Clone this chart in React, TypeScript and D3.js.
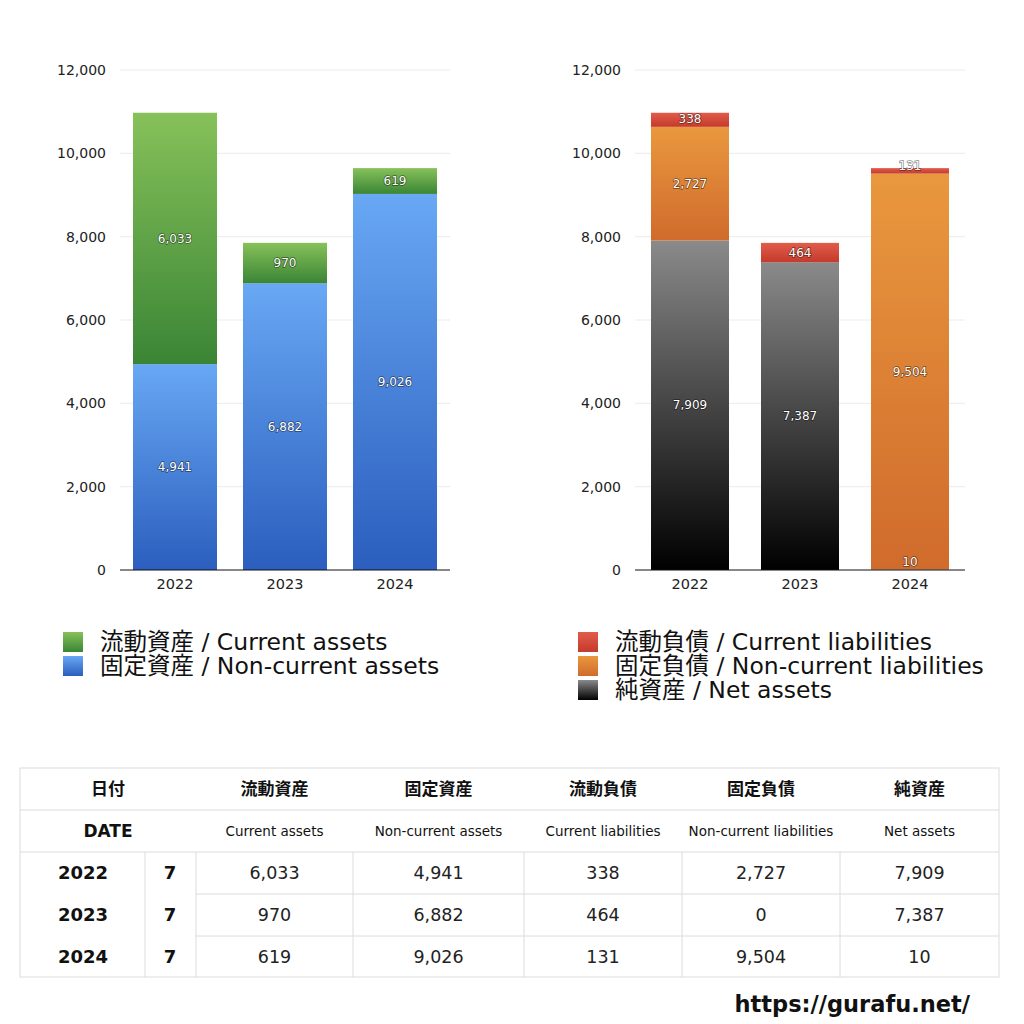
import React from "react";
import * as d3 from "d3";

const years = ["2022", "2023", "2024"];
const months = [7, 7, 7];
const currentAssets = [6033, 970, 619];
const nonCurrentAssets = [4941, 6882, 9026];
const currentLiabilities = [338, 464, 131];
const nonCurrentLiabilities = [2727, 0, 9504];
const netAssets = [7909, 7387, 10];
const yTicks = [0, 2000, 4000, 6000, 8000, 10000, 12000];

const leftSeries = [
  { key: "nca", jp: "固定資産", en: "Non-current assets", values: nonCurrentAssets, grad: "gBlue" },
  { key: "ca", jp: "流動資産", en: "Current assets", values: currentAssets, grad: "gGreen" },
];
const rightSeries = [
  { key: "na", jp: "純資産", en: "Net assets", values: netAssets, grad: "gBlack" },
  { key: "ncl", jp: "固定負債", en: "Non-current liabilities", values: nonCurrentLiabilities, grad: "gOrange" },
  { key: "cl", jp: "流動負債", en: "Current liabilities", values: currentLiabilities, grad: "gRed" },
];

const gradients = [
  { id: "gGreen", top: "#87c15a", bottom: "#3a8535" },
  { id: "gBlue", top: "#68a8f4", bottom: "#2b5ebe" },
  { id: "gRed", top: "#e25c4a", bottom: "#c43a2b" },
  { id: "gOrange", top: "#e9983e", bottom: "#d06b2c" },
  { id: "gBlack", top: "#8a8a8a", bottom: "#000000" },
];

const FONT = "'DejaVu Sans', 'Noto Sans CJK JP', sans-serif";
const fmt = d3.format(",");

function StackChart({ series, x0, barPad }: { series: any[]; x0: number; barPad: number }) {
  const width = 330;
  const x = d3.scaleBand<string>().domain(years).range([x0, x0 + width]).paddingInner(barPad).paddingOuter(barPad / 2);
  const y = d3.scaleLinear().domain([0, 12000]).range([570, 70]);
  const rows = years.map((yr, i) => {
    const o: any = { year: yr };
    series.forEach((s) => (o[s.key] = s.values[i]));
    return o;
  });
  const stacked = d3.stack<any>().keys(series.map((s) => s.key))(rows);
  return (
    <g>
      {yTicks.map((t) => (
        <g key={t}>
          {t > 0 && <line x1={x0} x2={x0 + width} y1={y(t)} y2={y(t)} stroke="#ebebeb" strokeWidth={1} />}
          <text x={x0 - 14} y={y(t)} dy="0.35em" textAnchor="end" fontSize={14} fill="#222" fontFamily={FONT}>
            {fmt(t)}
          </text>
        </g>
      ))}
      {stacked.map((layer, si) => (
        <g key={layer.key}>
          {layer.map((d, i) => {
            const h = y(d[0]) - y(d[1]);
            if (h <= 0) return null;
            return (
              <rect key={i} x={x(years[i])} width={x.bandwidth()} y={y(d[1])} height={h} fill={`url(#${series[si].grad})`} />
            );
          })}
        </g>
      ))}
      {stacked.map((layer, si) => (
        <g key={layer.key + "l"}>
          {layer.map((d, i) => {
            const v = series[si].values[i];
            if (!v) return null;
            const cy = Math.min((y(d[0]) + y(d[1])) / 2, y(d[0]) - 8);
            return (
              <text
                key={i}
                x={(x(years[i]) as number) + x.bandwidth() / 2}
                y={cy}
                dy="0.35em"
                textAnchor="middle"
                fontSize={12}
                fill="#fff"
                stroke="rgba(0,0,0,0.5)"
                strokeWidth={1.4}
                paintOrder="stroke"
                fontFamily={FONT}
              >
                {fmt(v)}
              </text>
            );
          })}
        </g>
      ))}
      <line x1={x0} x2={x0 + width} y1={y(0)} y2={y(0)} stroke="#111" strokeWidth={1} />
      {years.map((yr) => (
        <text key={yr} x={(x(yr) as number) + x.bandwidth() / 2} y={584} dy="0.35em" textAnchor="middle" fontSize={14.5} fill="#222" fontFamily={FONT}>
          {yr}
        </text>
      ))}
    </g>
  );
}

function Legend({ items, x0, y0 }: { items: any[]; x0: number; y0: number }) {
  return (
    <g>
      {items.map((s, i) => (
        <g key={s.key}>
          <rect x={x0} y={y0 + i * 24 - 10} width={20} height={20} fill={`url(#${s.grad})`} />
          <text x={x0 + 37} y={y0 + i * 24} dy="0.36em" fontSize={23.5} fill="#111" fontFamily={FONT}>
            {s.jp} / {s.en}
          </text>
        </g>
      ))}
    </g>
  );
}

const colEdges = [20, 196, 353, 524, 682, 840, 999];
const rowEdges = [768, 810, 852, 894, 936, 977];
const headJp = ["流動資産", "固定資産", "流動負債", "固定負債", "純資産"];
const headEn = ["Current assets", "Non-current assets", "Current liabilities", "Non-current liabilities", "Net assets"];
const tableCols = [currentAssets, nonCurrentAssets, currentLiabilities, nonCurrentLiabilities, netAssets];

function Table() {
  const grid = "#dcdcdc";
  const mid = (a: number, b: number) => (a + b) / 2;
  return (
    <g fontFamily={FONT}>
      <rect x={20} y={768} width={979} height={209} fill="#fff" stroke={grid} />
      <line x1={20} x2={999} y1={810} y2={810} stroke={grid} />
      <line x1={20} x2={999} y1={852} y2={852} stroke={grid} />
      {[894, 936].map((yy) => (
        <line key={yy} x1={196} x2={999} y1={yy} y2={yy} stroke={grid} />
      ))}
      {[145, 196, 353, 524, 682, 840].map((xx) => (
        <line key={xx} x1={xx} x2={xx} y1={852} y2={977} stroke={grid} />
      ))}
      <text x={108} y={mid(768, 810)} dy="0.36em" textAnchor="middle" fontSize={17} fontWeight="bold" fill="#111">日付</text>
      <text x={108} y={mid(810, 852)} dy="0.36em" textAnchor="middle" fontSize={17} fontWeight="bold" fill="#111">DATE</text>
      {headJp.map((h, i) => (
        <text key={h} x={mid(colEdges[i + 1], colEdges[i + 2])} y={mid(768, 810)} dy="0.36em" textAnchor="middle" fontSize={17} fontWeight="bold" fill="#111">{h}</text>
      ))}
      {headEn.map((h, i) => (
        <text key={h} x={mid(colEdges[i + 1], colEdges[i + 2])} y={mid(810, 852)} dy="0.36em" textAnchor="middle" fontSize={13.5} fill="#111">{h}</text>
      ))}
      {years.map((yr, r) => (
        <g key={yr}>
          <text x={83} y={mid(rowEdges[r + 2], rowEdges[r + 3])} dy="0.36em" textAnchor="middle" fontSize={18} fontWeight="bold" fill="#111">{yr}</text>
          <text x={170} y={mid(rowEdges[r + 2], rowEdges[r + 3])} dy="0.36em" textAnchor="middle" fontSize={18} fontWeight="bold" fill="#111">{months[r]}</text>
          {tableCols.map((col, c) => (
            <text key={c} x={mid(colEdges[c + 1], colEdges[c + 2])} y={mid(rowEdges[r + 2], rowEdges[r + 3])} dy="0.36em" textAnchor="middle" fontSize={17.5} fill="#222">{fmt(col[r])}</text>
          ))}
        </g>
      ))}
    </g>
  );
}

export default function App() {
  return (
    <svg width={1024} height={1024} style={{ position: "absolute", left: 0, top: 0, background: "#fff" }}>
      <defs>
        {gradients.map((g) => (
          <linearGradient key={g.id} id={g.id} x1="0" y1="0" x2="0" y2="1">
            <stop offset="0" stopColor={g.top} />
            <stop offset="1" stopColor={g.bottom} />
          </linearGradient>
        ))}
      </defs>
      <rect width={1024} height={1024} fill="#fff" />
      <StackChart series={leftSeries} x0={120} barPad={26 / 110} />
      <StackChart series={rightSeries} x0={635} barPad={32 / 110} />
      <Legend items={[leftSeries[1], leftSeries[0]]} x0={63} y0={642} />
      <Legend items={[rightSeries[2], rightSeries[1], rightSeries[0]]} x0={578} y0={642} />
      <Table />
      <text x={970} y={1004} dy="0.36em" textAnchor="end" fontSize={22.5} fontWeight="bold" fill="#111" fontFamily={FONT}>
        https://gurafu.net/
      </text>
    </svg>
  );
}
